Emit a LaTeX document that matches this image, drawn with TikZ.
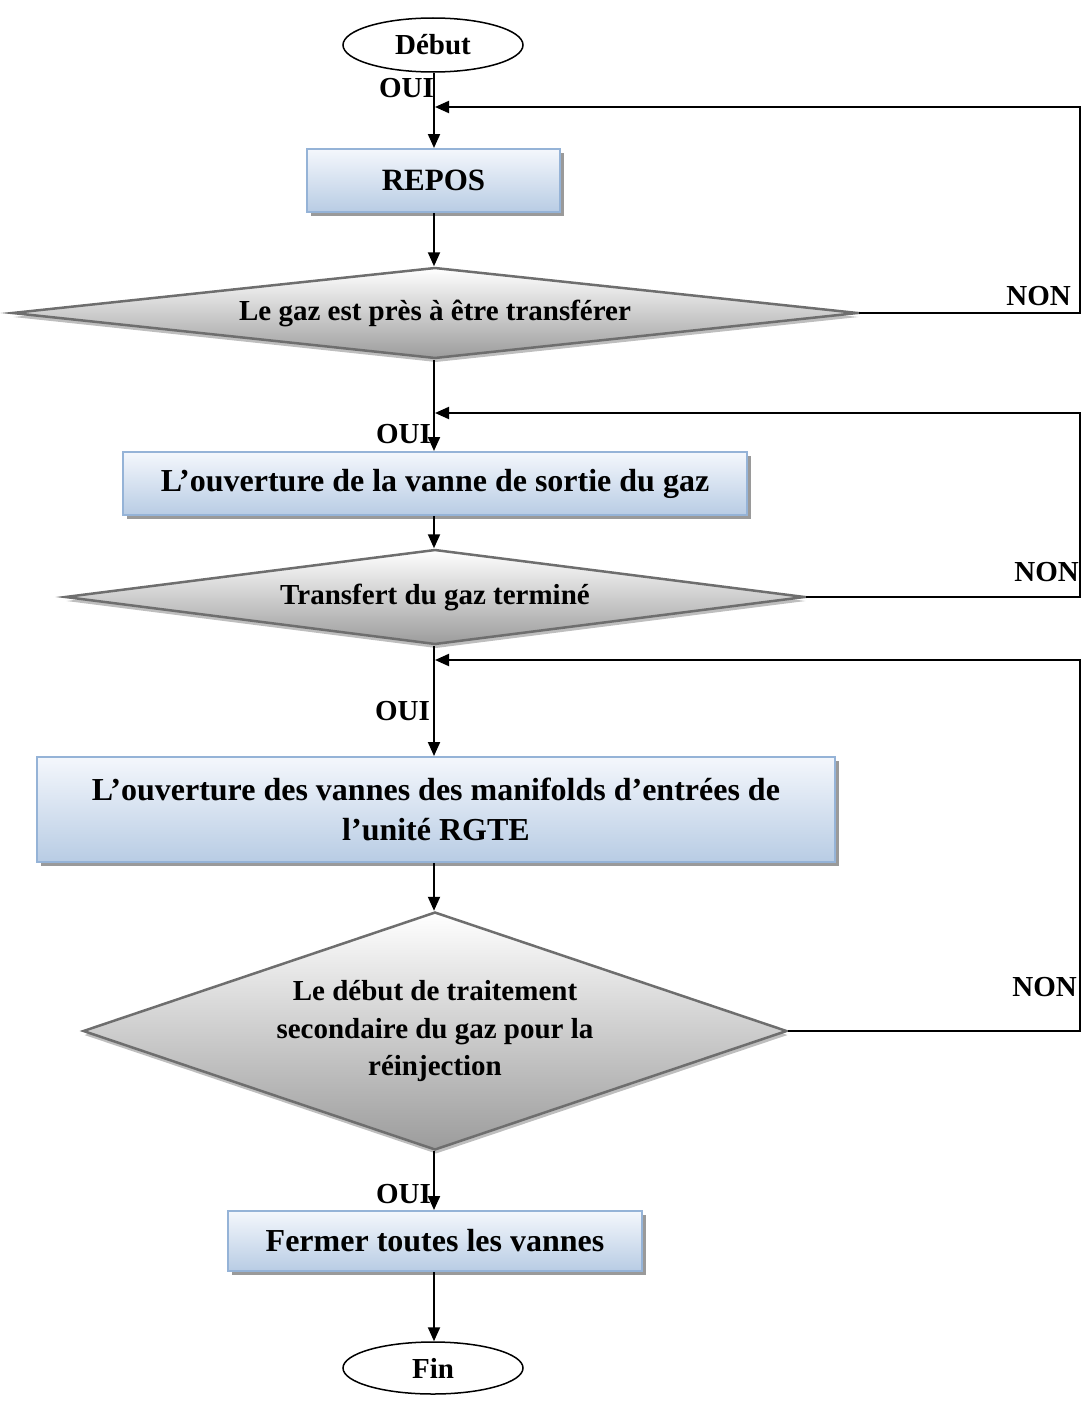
\documentclass[tikz,border=0pt]{standalone}
\usepackage{fontspec}
\setmainfont{Liberation Serif}
\usetikzlibrary{shapes.geometric,arrows.meta,shadows}

\definecolor{boxtop}{HTML}{F4F7FC}
\definecolor{boxbot}{HTML}{B8CCE4}
\definecolor{boxedge}{HTML}{95B3D7}
\definecolor{boxshadow}{HTML}{9A9A9A}
\definecolor{diabot}{HTML}{9C9C9C}
\definecolor{diaedge}{HTML}{6E6E6E}
\definecolor{diashadow}{HTML}{BEBEBE}

\newcommand{\txtsize}[1]{\bfseries\fontsize{#1}{1.3\dimexpr#1pt\relax}\selectfont}

\begin{document}
\begin{tikzpicture}[x=1pt,y=-1pt,
  conn/.style={line width=2pt},
  arr/.style={conn,-{Triangle[length=14pt,width=12pt]}},
  term/.style={ellipse, draw, line width=1.5pt, fill=white,
    minimum width=180pt, minimum height=54pt, inner sep=0pt, font=\txtsize{29}},
  procbox/.style={rectangle, draw=boxedge, line width=2pt,
    top color=boxtop, bottom color=boxbot, inner sep=0pt, align=center,
    drop shadow={shadow xshift=4pt, shadow yshift=-4pt, fill=boxshadow, opacity=1}},
  decision/.style={diamond, draw=diaedge, line width=2.5pt,
    top color=white, bottom color=diabot, inner sep=0pt, align=center,
    font=\txtsize{29},
    drop shadow={shadow xshift=1pt, shadow yshift=-4pt, fill=diashadow, opacity=1}},
  lbl/.style={inner sep=0pt, font=\txtsize{29}},
]
\useasboundingbox (0,0) rectangle (1082,1405);

% vertical axis of the main flow
\coordinate (axis) at (434,0);

% terminals, steps and tests of the sequence
\node[term] (start) at (433,45) {Début};
\node[procbox, minimum width=253pt, minimum height=63pt, font=\txtsize{31}]
  (repos) at (433.5,180.5) {REPOS};
\node[decision, minimum width=846pt, minimum height=91pt, aspect=9.3]
  (q1) at (435,313) {Le gaz est près à être transférer};
\node[procbox, minimum width=624pt, minimum height=63pt, font=\txtsize{32}]
  (vsortie) at (435,483.5) {L’ouverture de la vanne de sortie du gaz};
\node[decision, minimum width=740pt, minimum height=95pt, aspect=7.8]
  (q2) at (435,597) {Transfert du gaz terminé};
\node[procbox, minimum width=798pt, minimum height=105pt, font=\txtsize{32}]
  (vmanif) at (436,809.5) {L’ouverture des vannes des manifolds d’entrées de\\[-1pt] l’unité RGTE};
\node[decision, minimum width=704pt, minimum height=238pt, aspect=2.96]
  (q3) at (435,1031) {Le début de traitement\\ secondaire du gaz pour la\\ réinjection};
\node[procbox, minimum width=414pt, minimum height=60pt, font=\txtsize{32}]
  (fermer) at (435,1241) {Fermer toutes les vannes};
\node[term, minimum height=52pt] (fin) at (433,1368) {Fin};

% main flow, kept on one vertical
\draw[arr] (start.south -| axis) -- (repos.north -| axis);
\draw[arr] (repos.south -| axis) -- (q1.north -| axis);
\draw[arr] (q1.south -| axis) -- (vsortie.north -| axis);
\draw[arr] (vsortie.south -| axis) -- (q2.north -| axis);
\draw[arr] (q2.south -| axis) -- (vmanif.north -| axis);
\draw[arr] (vmanif.south -| axis) -- (q3.north -| axis);
\draw[arr] (q3.south -| axis) -- (fermer.north -| axis);
\draw[arr] (fermer.south -| axis) -- (fin.north -| axis);

% return paths on the NON branches
\coordinate (r1) at (1080,107);
\coordinate (j1) at (435,107);
\coordinate (r2) at (1080,413);
\coordinate (j2) at (435,413);
\coordinate (r3) at (1080,660);
\coordinate (j3) at (435,660);
\draw[arr] (q1.east) -| (r1) -- (j1);
\draw[arr] (q2.east) -| (r2) -- (j2);
\draw[arr] (q3.east) -| (r3) -- (j3);

% branch labels
\node[lbl, anchor=base east] (oui1) at (434,97) {OUI};
\node[lbl, anchor=base east] (oui2) at (431,443) {OUI};
\node[lbl, anchor=base east] (oui3) at (430,720) {OUI};
\node[lbl, anchor=base east] (oui4) at (431,1203) {OUI};
\node[lbl, anchor=base east] (non1) at (1071,305) {NON};
\node[lbl, anchor=base east] (non2) at (1079,581) {NON};
\node[lbl, anchor=base east] (non3) at (1077,996) {NON};
\end{tikzpicture}
\end{document}
